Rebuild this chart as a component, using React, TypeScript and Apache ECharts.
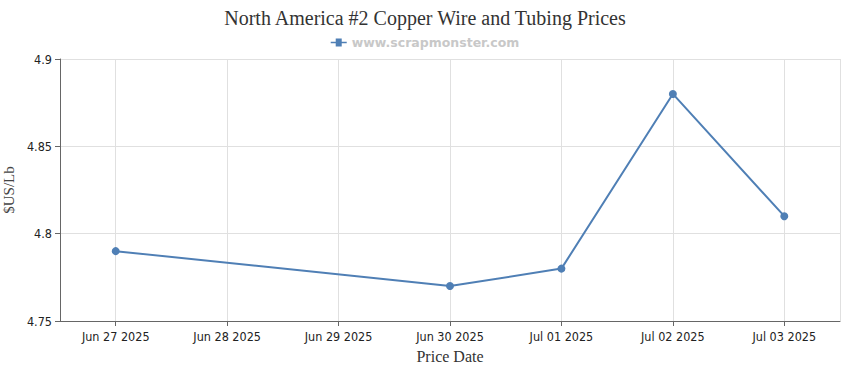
import React, { useEffect, useRef } from "react";
import * as echarts from "echarts";

const dates = ["2025-06-27", "2025-06-30", "2025-07-01", "2025-07-02", "2025-07-03"];
const prices = [4.79, 4.77, 4.78, 4.88, 4.81];
const months = ["Jan", "Feb", "Mar", "Apr", "May", "Jun", "Jul", "Aug", "Sep", "Oct", "Nov", "Dec"];

const toTime = (s: string) => {
  const [y, m, d] = s.split("-").map(Number);
  return new Date(y, m - 1, d).getTime();
};
const DAY = 86400000;

export default function App() {
  const ref = useRef<HTMLDivElement>(null);
  useEffect(() => {
    if (!ref.current) return;
    const chart = echarts.init(ref.current, undefined, { renderer: "svg" });
    const first = toTime(dates[0]);
    const last = toTime(dates[dates.length - 1]);
    chart.setOption({
      animation: false,
      title: {
        text: "North America #2 Copper Wire and Tubing Prices",
        left: "center",
        top: 3,
        textStyle: { fontFamily: "Liberation Serif, serif", fontSize: 20, fontWeight: "normal", color: "#333" },
      },
      legend: {
        top: 31,
        left: "center",
        data: ["www.scrapmonster.com"],
        itemWidth: 16,
        itemHeight: 8,
        itemGap: 5,
        icon: "path://M0,3.2 L5,3.2 L5,0 L11,0 L11,3.2 L16,3.2 L16,4.8 L11,4.8 L11,8 L5,8 L5,4.8 L0,4.8 Z",
        textStyle: { fontFamily: "DejaVu Sans, Verdana, sans-serif", fontSize: 12.5, fontWeight: "bold", color: "#c8c8c8" },
      },
      grid: { left: 60, right: 10, top: 59, bottom: 49, outerBoundsMode: "none", containLabel: false },
      xAxis: {
        type: "time",
        min: first - DAY / 2,
        max: last + DAY / 2,
        minInterval: DAY,
        maxInterval: DAY,
        name: "Price Date",
        nameLocation: "middle",
        nameGap: 27,
        nameTextStyle: { fontFamily: "Liberation Serif, serif", fontSize: 16, color: "#333" },
        axisLine: { lineStyle: { color: "#666" } },
        axisTick: { show: true, length: 5, lineStyle: { color: "#666" } },
        axisLabel: {
          color: "#222",
          fontFamily: "DejaVu Sans Condensed, DejaVu Sans, sans-serif",
          fontSize: 12.5,
          margin: 9,
          hideOverlap: false,
          formatter: (v: number) => {
            const d = new Date(v);
            const dd = String(d.getDate()).padStart(2, "0");
            return `${months[d.getMonth()]} ${dd} ${d.getFullYear()}`;
          },
        },
        splitLine: { show: true, lineStyle: { color: "#e0e0e0" } },
      },
      yAxis: {
        type: "value",
        min: 4.75,
        max: 4.9,
        interval: 0.05,
        name: "$US/Lb",
        nameLocation: "middle",
        nameGap: 41,
        nameTextStyle: { fontFamily: "Liberation Serif, serif", fontSize: 15, color: "#444" },
        axisLine: { show: true, lineStyle: { color: "#666" } },
        axisTick: { show: true, length: 5, lineStyle: { color: "#666" } },
        axisLabel: {
          color: "#222",
          fontFamily: "DejaVu Sans Condensed, DejaVu Sans, sans-serif",
          fontSize: 12.5,
          margin: 8,
          formatter: (v: number) => String(parseFloat(v.toFixed(2))),
        },
        splitLine: { show: true, lineStyle: { color: "#e0e0e0" } },
      },
      series: [
        {
          name: "www.scrapmonster.com",
          type: "line",
          data: dates.map((d, i) => [toTime(d), prices[i]]),
          symbol: "circle",
          symbolSize: 8,
          lineStyle: { color: "#4f7fb5", width: 2 },
          itemStyle: { color: "#4f7fb5" },
        },
      ],
    });
    return () => chart.dispose();
  }, []);
  return <div ref={ref} style={{ width: 850, height: 370, position: "absolute", left: 0, top: 0 }} />;
}
